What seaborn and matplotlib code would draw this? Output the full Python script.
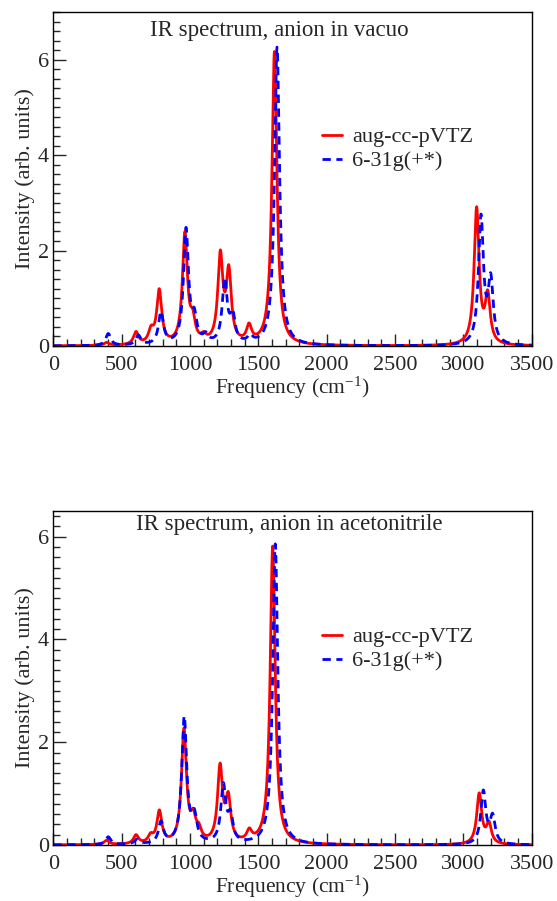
import numpy as np
import pandas as pd
import matplotlib
matplotlib.use("Agg")
import matplotlib.pyplot as plt
import seaborn as sns
from matplotlib.ticker import MultipleLocator

sns.set_style("ticks")
plt.rcParams['font.family'] = ['Liberation Serif', 'DejaVu Serif']
plt.rcParams['mathtext.default'] = 'regular'

# ---- data: peak positions (cm^-1) and peak heights ----
vac_aug_freq = [390, 605, 715, 775, 963, 1020, 1100, 1222, 1284, 1432, 1618, 3097, 3178]
vac_aug_int = [0.06, 0.26, 0.26, 1.12, 2.30, 0.42, 0.12, 1.80, 1.45, 0.34, 6.15, 2.85, 0.98]
vac_631_freq = [402, 622, 788, 971, 1032, 1115, 1254, 1312, 1440, 1637, 3129, 3200]
vac_631_int = [0.25, 0.20, 0.68, 2.40, 0.48, 0.16, 1.32, 0.56, 0.14, 6.25, 2.65, 1.30]

acn_aug_freq = [390, 605, 712, 776, 956, 1024, 1065, 1220, 1280, 1434, 1605, 3116, 3187]
acn_aug_int = [0.08, 0.17, 0.14, 0.62, 2.20, 0.42, 0.20, 1.45, 0.82, 0.20, 5.80, 0.98, 0.38]
acn_631_freq = [402, 612, 788, 958, 1032, 1244, 1296, 1624, 3146, 3214]
acn_631_int = [0.15, 0.09, 0.42, 2.45, 0.48, 1.10, 0.48, 5.85, 1.02, 0.52]

hwhm = 22.0  # Lorentzian broadening
series_labels = ["aug-cc-pVTZ", "6-31g(+*)"]
titles = ["IR spectrum, anion in vacuo", "IR spectrum, anion in acetonitrile"]

grid = np.linspace(0, 3500, 3501)


def broaden(freqs, ints):
    f = np.asarray(freqs, float)[:, None]
    a = np.asarray(ints, float)[:, None]
    return (a * hwhm**2 / ((grid[None, :] - f) ** 2 + hwhm**2)).sum(axis=0)


fig = plt.figure(figsize=(5.57, 9.01), dpi=100)
W, H = 557, 901
left, right = 53.3, 531.7
panels = [
    dict(top=12, bottom=346, ylim=7.0, data=[(vac_aug_freq, vac_aug_int), (vac_631_freq, vac_631_int)],
         title=titles[0], tx=0.202, ty=0.928, leg_y=0.656),
    dict(top=511, bottom=845, ylim=6.5, data=[(acn_aug_freq, acn_aug_int), (acn_631_freq, acn_631_int)],
         title=titles[1], tx=0.173, ty=0.943, leg_y=0.653),
]

for p in panels:
    ax = fig.add_axes([left / W, 1 - p['bottom'] / H, (right - left) / W, (p['bottom'] - p['top']) / H])
    frames = []
    for (fr, it), lab in zip(p['data'], series_labels):
        frames.append(pd.DataFrame({"freq": grid, "intensity": broaden(fr, it), "basis": lab}))
    df = pd.concat(frames, ignore_index=True)
    sns.lineplot(data=df, x="freq", y="intensity", hue="basis", style="basis",
                 palette={series_labels[0]: "#ff0000", series_labels[1]: "#0000ff"},
                 dashes={series_labels[0]: "", series_labels[1]: (3.0, 2.0)},
                 linewidth=2.0, ax=ax, legend=True)
    ax.set_xlim(0, 3500)
    ax.set_ylim(0, p['ylim'])
    ax.xaxis.set_major_locator(MultipleLocator(500))
    ax.xaxis.set_minor_locator(MultipleLocator(100))
    ax.yaxis.set_major_locator(MultipleLocator(2))
    ax.yaxis.set_minor_locator(MultipleLocator(0.2))
    ax.tick_params(which='both', direction='in', top=False, right=False, labelsize=16, width=1)
    ax.tick_params(which='major', length=9)
    ax.tick_params(which='minor', length=5)
    ax.tick_params(axis='x', which='major', pad=7)
    ax.tick_params(axis='y', which='major', pad=3)
    for s in ax.spines.values():
        s.set_visible(True)
        s.set_linewidth(1.0)
        s.set_color('black')
    ax.set_xlabel("Frequency (cm$^{-1}$)", fontsize=15.5, labelpad=0)
    ax.set_ylabel("Intensity (arb. units)", fontsize=16, labelpad=2)
    ax.text(p['tx'], p['ty'], p['title'], transform=ax.transAxes, ha='left', va='baseline', fontsize=16.5)
    leg = ax.legend(loc='upper left', bbox_to_anchor=(0.562, p['leg_y']), frameon=False,
                    fontsize=16, handlelength=0.9, handletextpad=0.45, labelspacing=0.15,
                    borderpad=0, borderaxespad=0)
    for line in leg.get_lines():
        line.set_linewidth(2.0)

fig.savefig("out.png", dpi=100)
